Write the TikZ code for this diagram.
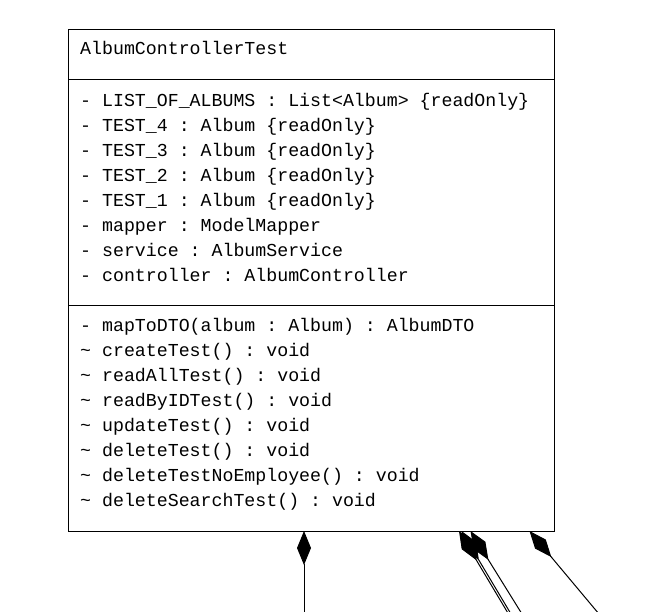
\documentclass[tikz,border=0pt]{standalone}
\usepackage{fontspec}
\setmonofont{Liberation Mono}
\usetikzlibrary{arrows.meta}
\begin{document}
\begin{tikzpicture}[x=1pt,y=-1pt,
  txt/.style={anchor=base west,inner sep=0pt,font=\ttfamily\fontsize{18.25}{25}\selectfont},
  boxline/.style={draw=black,line width=1pt},
  comp/.style={draw=black,line width=1pt,-{Diamond[length=34pt,width=14pt,fill=black]}}]
\useasboundingbox[fill=white] (0,0) rectangle (666,611);
\node[boxline,anchor=north west,minimum width=486pt,minimum height=502pt,inner sep=0pt] (cls) at (68,29) {};
\draw[boxline] (68,79) -- (554,79);
\draw[boxline] (68,305) -- (554,305);
\node[txt] (title) at (80,54) {AlbumControllerTest};
\node[txt] (f1) at (80,106) {- LIST\_OF\_ALBUMS : List<Album> \{readOnly\}};
\node[txt] (f2) at (80,131) {- TEST\_4 : Album \{readOnly\}};
\node[txt] (f3) at (80,156) {- TEST\_3 : Album \{readOnly\}};
\node[txt] (f4) at (80,181) {- TEST\_2 : Album \{readOnly\}};
\node[txt] (f5) at (80,206) {- TEST\_1 : Album \{readOnly\}};
\node[txt] (f6) at (80,231) {- mapper : ModelMapper};
\node[txt] (f7) at (80,256) {- service : AlbumService};
\node[txt] (f8) at (80,281) {- controller : AlbumController};
\node[txt] (m1) at (80,331) {- mapToDTO(album : Album) : AlbumDTO};
\node[txt] (m2) at (80,356) {\char`\~{} createTest() : void};
\node[txt] (m3) at (80,381) {\char`\~{} readAllTest() : void};
\node[txt] (m4) at (80,406) {\char`\~{} readByIDTest() : void};
\node[txt] (m5) at (80,431) {\char`\~{} updateTest() : void};
\node[txt] (m6) at (80,456) {\char`\~{} deleteTest() : void};
\node[txt] (m7) at (80,481) {\char`\~{} deleteTestNoEmployee() : void};
\node[txt] (m8) at (80,506) {\char`\~{} deleteSearchTest() : void};
\coordinate (a1) at (304,531);
\coordinate (a2) at (459,531);
\coordinate (a2b) at (461.5,531);
\coordinate (a3) at (470.5,531);
\coordinate (a4) at (529.5,531);
\coordinate (e1) at (304,614);
\coordinate (e2a) at (508.5,614);
\coordinate (e2b) at (511,614);
\coordinate (e3) at (522,614);
\coordinate (e4) at (599,614);
\draw[comp] (e1) -- (a1);
\draw[comp] (e2a) -- (a2);
\draw[comp] (e2b) -- (a2b);
\draw[comp] (e3) -- (a3);
\draw[comp] (e4) -- (a4);
\end{tikzpicture}
\end{document}
